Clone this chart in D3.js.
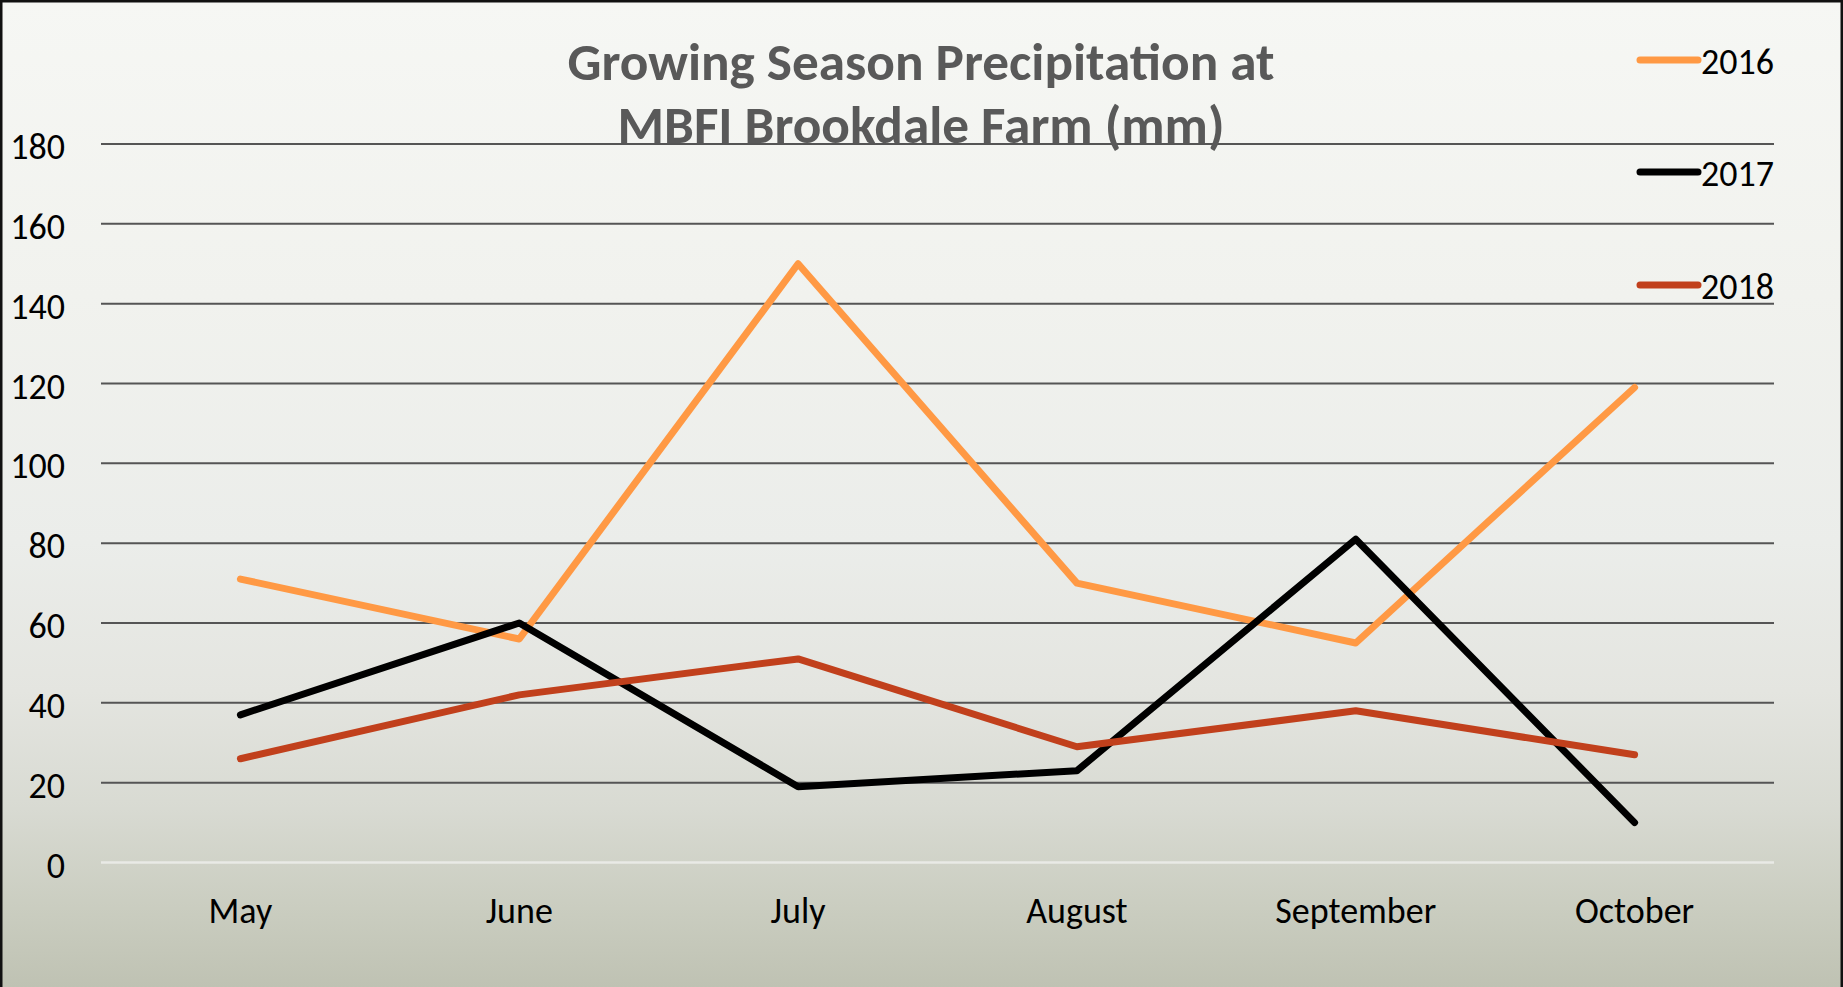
<!DOCTYPE html>
<html>
<head>
<meta charset="utf-8">
<script src="https://cdn.jsdelivr.net/npm/d3@7"></script>
<style>
  html, body { margin: 0; padding: 0; background: #ffffff; }
  svg { display: block; }
  text { font-family: Carlito, Calibri, Lato, "Open Sans", sans-serif; }
</style>
</head>
<body>
<svg id="chart" width="1843" height="987"></svg>
<script>
// Monthly precipitation (mm) at MBFI Brookdale Farm, growing season
const months = ["May", "June", "July", "August", "September", "October"];
const years = ["2016", "2017", "2018"];
const precip2016 = [71, 56, 150, 70, 55, 119];
const precip2017 = [37, 60, 19, 23, 81, 10];
const precip2018 = [26, 42, 51, 29, 38, 27];
const yTicks = [0, 20, 40, 60, 80, 100, 120, 140, 160, 180];
const seriesColors = ["#FF9944", "#000000", "#C1401C"];
const titleLines = ["Growing Season Precipitation at", "MBFI Brookdale Farm (mm)"];

const series = years.map((y, i) => ({
  name: y,
  color: seriesColors[i],
  values: [precip2016, precip2017, precip2018][i]
}));

const W = 1843, H = 987;
const plot = { left: 101, right: 1774, top: 144, bottom: 862.5 };

const svg = d3.select("#chart");

// Background: pale top fading to a grey-green base
const defs = svg.append("defs");
const grad = defs.append("linearGradient")
  .attr("id", "bg").attr("x1", 0).attr("y1", 0).attr("x2", 0).attr("y2", 1);
[[0, "#F6F7F4"], [0.3, "#F1F2EE"], [0.55, "#EBEDEA"], [0.7, "#E4E5E0"],
 [0.82, "#D8DAD2"], [0.92, "#CACDC0"], [1, "#BFC2B3"]]
  .forEach(([o, c]) => grad.append("stop").attr("offset", o).attr("stop-color", c));

svg.append("rect").attr("x", 0).attr("y", 0).attr("width", W).attr("height", H)
  .attr("fill", "url(#bg)");

const x = d3.scaleBand().domain(months).range([plot.left, plot.right]);
const y = d3.scaleLinear().domain([0, 180]).range([plot.bottom, plot.top]);

// Horizontal gridlines with value labels
const yAxis = d3.axisLeft(y).tickValues(yTicks).tickSize(0).tickPadding(0);
const yg = svg.append("g").call(yAxis);
yg.select(".domain").remove();
yg.selectAll(".tick text")
  .attr("x", -36).attr("dy", "0.42em")
  .attr("font-size", 36).attr("fill", "#000")
  .attr("text-anchor", "end")
  .attr("transform", `translate(${plot.left},0)`);
yg.selectAll(".tick")
  .attr("transform", d => `translate(0,${y(d)})`)
  .append("line")
  .attr("x1", plot.left).attr("x2", plot.right)
  .attr("stroke", d => d === 0 ? "#E9EAE6" : "#555555")
  .attr("stroke-width", d => d === 0 ? 2.5 : 2);

// Month labels
const xAxis = d3.axisBottom(x).tickSize(0).tickPadding(0);
const xg = svg.append("g").attr("transform", `translate(0,${plot.bottom})`).call(xAxis);
xg.select(".domain").remove();
xg.selectAll(".tick text")
  .attr("y", 60).attr("dy", 0)
  .attr("font-size", 36).attr("fill", "#000");

// Series lines
const line = d3.line()
  .x((d, i) => x(months[i]) + x.bandwidth() / 2)
  .y(d => y(d));

svg.append("g").selectAll("path")
  .data(series)
  .join("path")
  .attr("d", d => line(d.values))
  .attr("fill", "none")
  .attr("stroke", d => d.color)
  .attr("stroke-width", 7)
  .attr("stroke-linecap", "round")
  .attr("stroke-linejoin", "round");

// Title
const title = svg.append("text")
  .attr("text-anchor", "middle")
  .attr("font-weight", "bold")
  .attr("fill", "#595959");
title.selectAll("tspan")
  .data(titleLines)
  .join("tspan")
  .attr("x", 921)
  .attr("y", (d, i) => 80 + i * 63)
  .text(d => d);
// size the title so the first line spans about 707px
title.attr("font-size", 50);
const firstLen = title.select("tspan").node().getComputedTextLength();
title.attr("font-size", 50 * 707 / firstLen);

// Legend
const legendY = [60, 172, 285];
const legend = svg.append("g").selectAll("g")
  .data(series)
  .join("g")
  .attr("transform", (d, i) => `translate(0,${legendY[i]})`);
legend.append("line")
  .attr("x1", 1640).attr("x2", 1698)
  .attr("stroke", d => d.color)
  .attr("stroke-width", 7)
  .attr("stroke-linecap", "round");
legend.append("text")
  .attr("x", 1701).attr("y", 14)
  .attr("font-size", 36).attr("fill", "#000")
  .text(d => d.name);

// Outer frame
svg.append("path")
  .attr("d", `M1,${H} V1 H${W - 1} V${H}`)
  .attr("fill", "none")
  .attr("stroke", "#111")
  .attr("stroke-width", 3);
</script>
</body>
</html>
